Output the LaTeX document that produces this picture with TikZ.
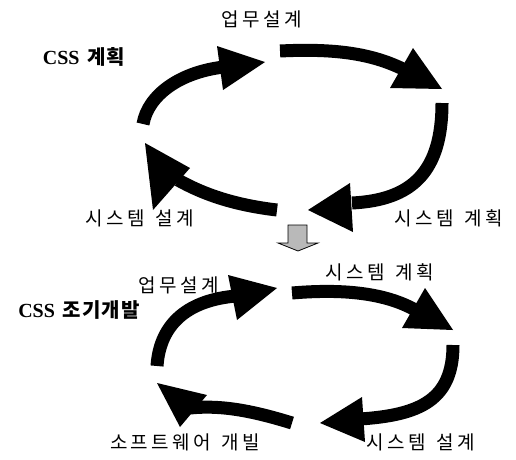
\documentclass[tikz,border=0pt]{standalone}
\usepackage{fontspec}
\newfontfamily\kr[LetterSpace=18]{Noto Sans CJK KR}
\newfontfamily\krb[LetterSpace=6]{Noto Sans CJK KR}
\newfontfamily\serb{Liberation Serif}
\newcommand\wsp{\hspace{0.55em}}
\begin{document}
\begin{tikzpicture}[x=1pt,y=-1pt,
  lab/.style={font=\fontsize{19}{22}\selectfont\kr, inner sep=0pt},
  csslab/.style={font=\fontsize{20}{23}\selectfont\bfseries, inner sep=0pt},
  shaft/.style={line width=13pt, line cap=butt},
  head/.style={fill=black, draw=none}]
\useasboundingbox (0,0) rectangle (516,459);

% ---------- top cycle ----------
\node[lab] (t1) at (262,19) {업무설계};
\node[csslab] (tcss) at (84,57) {{\serb CSS} {\krb 계획}};
\node[lab] (t3) at (140,218) {시스템\wsp 설계};
\node[lab] (t2) at (449,218) {시스템\wsp 계획};

% arrow 1
\coordinate (a1s) at (143,124);
\coordinate (a1e) at (224,67);
\draw[shaft] (a1s) .. controls (148,95) and (180,72) .. (a1e);
\fill[head] (217,46) -- (265,62) -- (223,90) -- cycle;
% arrow 2
\coordinate (a2s) at (280,51);
\coordinate (a2e) at (405,70);
\draw[shaft] (a2s) .. controls (340,48) and (375,55) .. (a2e);
\fill[head] (413,48) -- (442,89) -- (390,88) -- cycle;
% arrow 3
\coordinate (a3s) at (442,103);
\coordinate (a3e) at (352,203);
\draw[shaft] (a3s) .. controls (442,172) and (412,200) .. (a3e);
\fill[head] (350,183) -- (308,210) -- (353,232) -- cycle;
% arrow 4
\coordinate (a4s) at (277,210);
\coordinate (a4e) at (178,180);
\draw[shaft] (a4s) .. controls (235,205) and (205,195) .. (a4e);
\fill[head] (190,168) -- (145,143) -- (153,210) -- cycle;

% ---------- transition arrow ----------
\draw[fill=gray!55, line width=0.8pt] (288,225) -- (307,225) -- (307,243) -- (318,243)
  -- (298,251) -- (278,243) -- (288,243) -- cycle;

% ---------- bottom cycle ----------
\node[lab] (b2) at (380,272) {시스템\wsp 계획};
\node[lab] (b1) at (179,285) {업무설계};
\node[csslab] (bcss) at (79,310) {{\serb CSS} {\krb 조기개발}};
\node[lab] (b4) at (185,442) {소프트웨어\wsp 개빌};
\node[lab] (b3) at (421,442) {시스템\wsp 설계};

% arrow A
\coordinate (bAs) at (157,366);
\coordinate (bAe) at (236,296);
\draw[shaft] (bAs) .. controls (160,322) and (190,300) .. (bAe);
\fill[head] (228,275) -- (277,288) -- (237,320) -- cycle;
% arrow B
\coordinate (bBs) at (292,293);
\coordinate (bBe) at (417,311);
\draw[shaft] (bBs) .. controls (350,288) and (390,295) .. (bBe);
\fill[head] (425,288) -- (453,330) -- (402,328) -- cycle;
% arrow C
\coordinate (bCs) at (453,345);
\coordinate (bCe) at (360,419);
\draw[shaft] (bCs) .. controls (453,400) and (420,415) .. (bCe);
\fill[head] (362,397) -- (320,423) -- (365,442) -- cycle;
% arrow D
\coordinate (bDs) at (292,423);
\coordinate (bDe) at (190,408);
\draw[shaft] (bDs) .. controls (250,410) and (220,405) .. (bDe);
\fill[head] (207,395) -- (157,383) -- (180,427) -- cycle;
\end{tikzpicture}
\end{document}
